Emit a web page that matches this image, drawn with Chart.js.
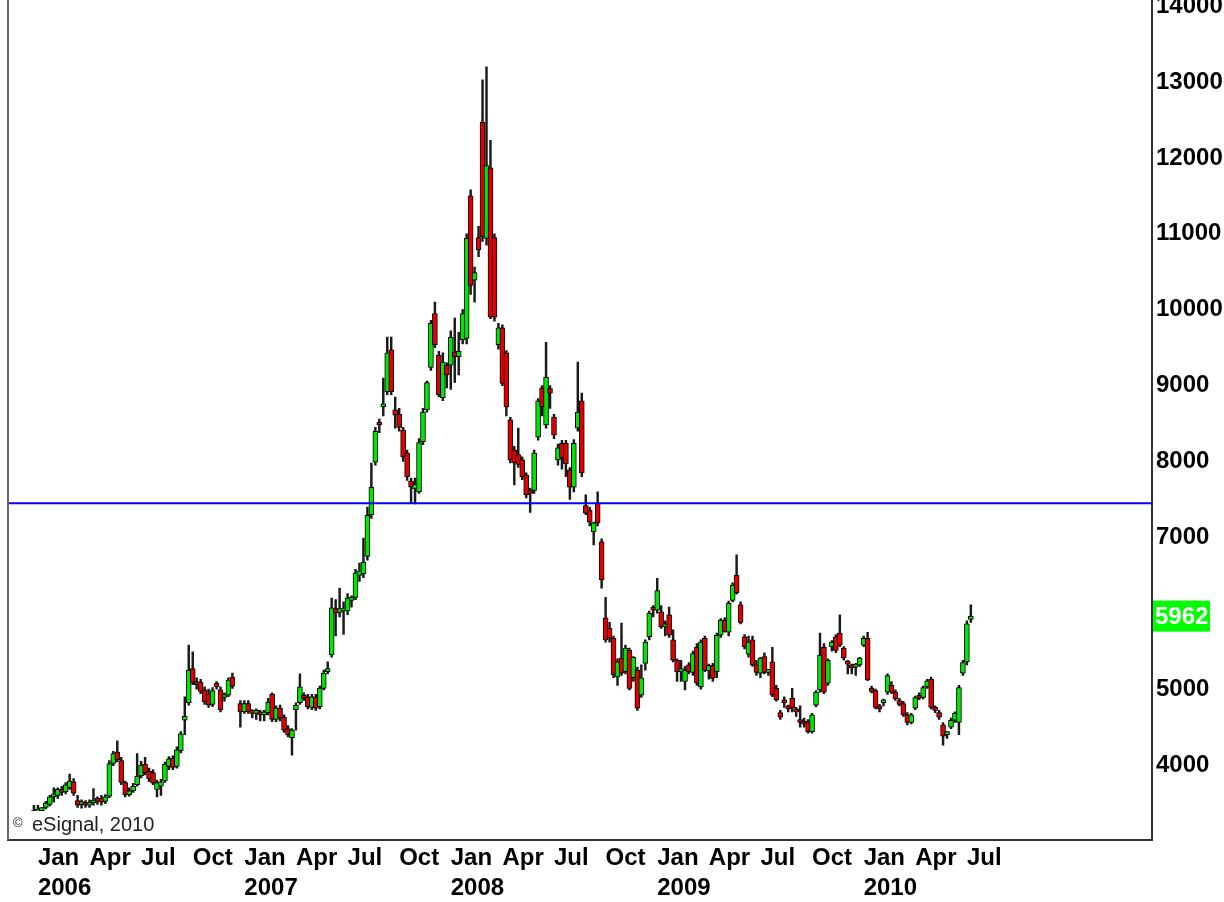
<!DOCTYPE html>
<html>
<head>
<meta charset="utf-8">
<title>Weekly candles 2005-2010</title>
<script src="https://cdn.jsdelivr.net/npm/chart.js@4.4.1/dist/chart.umd.min.js"></script>
<style>
  html, body { margin: 0; padding: 0; background: #fff; overflow: hidden; }
  #wrap { position: relative; width: 1224px; height: 902px; overflow: hidden; }
  #chart { position: absolute; left: 0; top: -49px; }
</style>
</head>
<body>
<div id="wrap"><canvas id="chart" width="1224" height="951"></canvas></div>
<script>
// weekly bars, index 0 = first week of Dec 2005 (null = no trading that week)
const opens = [
  3330,3350,3340,3360,3380,3400,3440,3480,3580,3600,
  3680,3650,3700,3780,3530,3480,3490,3470,3500,3530,
  3560,3520,3590,4020,4170,4060,3770,3610,3660,3740,
  3860,4010,3920,3900,3680,3720,3790,3980,4090,3980,
  4190,4590,4820,5270,5090,5090,4990,4940,4800,5080,
  4990,4890,4920,5160,null,4810,4700,4810,4700,4680,
  4700,4660,4690,4930,4600,4750,4630,4480,4360,4730,
  4820,4890,4900,4760,4900,4770,5010,5230,5450,6060,
  6010,6030,6030,6170,6210,6500,6520,6750,7300,7990,
  8520,8720,8920,9470,8680,8620,8410,8110,7740,7640,
  7600,8260,8680,9240,9950,9400,8840,9270,9270,9440,
  9380,9600,9620,11500,10390,10950,12470,10940,11870,10950,
  9540,9760,9430,8550,8150,8090,8020,7820,7600,7620,
  8320,8970,8480,8960,8580,8020,8240,8240,7890,7660,
  8440,8800,7420,7360,7070,7450,6940,5940,5800,5670,
  5160,5410,5230,5510,5150,5250,4920,5340,5690,6070,
  6040,6020,5820,5980,5650,5380,5230,5100,5320,5220,
  5550,5030,5670,5240,5310,5230,5710,5910,5750,6170,
  6500,6110,5690,5460,5650,5320,5210,5430,5220,5360,
  5010,4690,4850,4780,4880,4720,4590,4580,4570,4440,
  4790,4990,5550,5080,5560,5690,5740,5540,5350,5310,
  5290,5320,5580,5670,5010,4980,4780,4820,4960,5050,
  4960,4850,4810,4660,4560,4750,4900,4890,5030,5130,
  4750,4690,4530,4400,4500,4590,4560,5210,5360,5920
];
const highs = [
  3370,3370,3380,3470,3470,3440,3520,3600,3700,3700,
  3720,3770,3880,3820,3600,3540,3530,3540,3690,3580,
  3600,3610,4060,4180,4320,4100,3790,3700,3760,4150,
  4050,4100,3960,3940,3800,3810,4040,4110,4120,4240,
  4440,4900,5580,5490,5150,5130,5030,5000,5020,5100,
  5030,4950,5150,5210,null,4850,4850,4850,4730,4740,
  4720,4720,4880,4950,4780,4790,4660,4520,4480,4820,
  5200,4950,4930,4930,4930,5040,5250,5360,6200,6180,
  6330,6150,6260,6230,6580,6660,6990,7400,7980,8450,
  8560,9100,9640,9640,8850,8700,8450,8150,7780,7780,
  8300,8700,9060,9860,10100,9450,9430,9300,9720,9890,
  9700,10000,11000,11580,10560,11100,13030,13200,12230,11000,
  9820,9800,9460,8580,8200,8440,8060,7850,7650,8150,
  8830,9000,9570,9000,8620,8230,8280,8280,7920,8290,
  9310,8900,7560,7400,7200,7600,6980,6210,5880,5700,
  5400,5870,5580,5540,5430,5290,5320,5650,6030,6100,
  6460,6100,5900,6080,5780,5400,5380,5300,5350,5500,
  5600,5650,5700,5330,5340,5740,5930,5940,6160,6400,
  6770,6150,5720,5700,5700,5380,5420,5480,5260,5550,
  5050,4720,4900,4790,5010,4760,4780,4620,4600,4680,
  4980,5740,5600,5400,5640,5720,5980,5560,5380,5330,
  5340,5420,5700,5750,5040,5000,4800,4870,5200,5100,
  4990,4880,4840,4690,4680,4910,4950,5040,5130,5160,
  4780,4720,4560,4440,4620,4700,5050,5380,5900,6110
];
const lows = [
  3290,3300,3300,3330,3340,3350,3420,3460,3510,3560,
  3600,3620,3680,3600,3440,3430,3440,3440,3470,3480,
  3470,3490,3570,3990,4040,3740,3580,3590,3640,3720,
  3830,3870,3780,3740,3580,3600,3770,3940,3940,3960,
  4160,4400,4790,5060,5000,4940,4800,4760,4770,5000,
  4700,4840,4900,5010,null,4500,4680,4680,4620,4600,
  4580,4580,4660,4570,4570,4580,4430,4370,4130,4460,
  4800,4850,4740,4730,4720,4740,4990,5200,5420,5700,
  5950,5720,5980,6080,6180,6420,6470,6700,7250,7950,
  8380,8600,8880,8880,8440,8400,8000,7750,7450,7440,
  7580,8220,8650,9200,9500,8850,8800,8970,8950,9040,
  9140,9550,9550,10200,10100,10700,10900,10850,9880,9850,
  9480,9000,8600,7980,7690,7920,7760,7520,7330,7580,
  8280,8600,8440,8700,8300,7950,7900,7800,7500,7600,
  8400,7800,7300,7150,6900,7150,6330,5620,5620,5150,
  5050,5180,5200,4990,5100,4720,4890,5250,5650,5950,
  6000,5800,5700,5680,5360,5100,5100,4990,5200,5180,
  5050,5000,5230,5130,5100,5150,5680,5750,5700,6150,
  6250,5860,5530,5420,5300,5180,5150,5200,5180,4900,
  4840,4600,4760,4700,4700,4640,4500,4500,4420,4420,
  4770,4960,4940,5050,5500,5480,5560,5380,5200,5200,
  5180,5300,5560,5110,4950,4740,4700,4780,4930,4940,
  4850,4780,4640,4530,4540,4730,4860,4870,5010,4740,
  4690,4600,4260,4350,4480,4560,4400,5180,5320,5880
];
const closes = [
  3350,3340,3360,3380,3400,3420,3500,3580,3620,3680,
  3640,3740,3790,3630,3470,3500,3470,3500,3530,3520,
  3510,3580,4020,4150,4070,3770,3610,3660,3720,3850,
  4000,3900,3820,3760,3770,3780,4010,4080,3970,4200,
  4410,4640,5250,5090,5060,4970,4830,4790,4980,5030,
  4730,4900,5120,5040,null,4700,4810,4700,4680,4700,
  4660,4690,4830,4600,4750,4620,4460,4400,4460,4790,
  5030,4880,4770,4900,4750,5010,5210,5260,6070,6000,
  6060,6060,6200,6190,6530,6560,6670,7290,7660,8400,
  8480,8760,9430,8920,8610,8450,8060,7800,7660,7700,
  8250,8650,9040,9820,9540,8880,9310,9140,9640,9380,
  9450,9950,10940,10320,10490,10790,10960,11900,9900,9900,
  9760,9030,8720,8020,7980,7960,7800,7560,7580,8110,
  8800,8720,9110,8900,8350,8180,8050,7970,7660,8240,
  8650,7850,7320,7200,7190,7190,6440,5650,5670,5190,
  5360,5210,5540,5010,5420,4750,5150,5620,6000,6040,
  6300,5820,5840,5710,5380,5230,5250,5250,5230,5470,
  5080,5620,5250,5310,5140,5710,5910,5760,6130,6370,
  6270,5880,5560,5620,5320,5220,5410,5220,5240,4920,
  4860,4630,4820,4740,4750,4700,4560,4540,4440,4660,
  4960,5450,4960,5380,5620,5510,5580,5410,5330,5280,
  5310,5410,5670,5120,4970,4760,4740,4860,5180,4960,
  4870,4800,4660,4560,4660,4890,4880,5020,5110,4760,
  4720,4630,4380,4410,4590,4680,5020,5350,5860,5962
];

// x ticks: first week of each quarter
const tickWeeks = [4,17,30,43,56,69,82,95,108,121,134,147,160,173,186,199,212,225,238];
const tickMonths = ['Jan','Apr','Jul','Oct','Jan','Apr','Jul','Oct','Jan','Apr','Jul','Oct','Jan','Apr','Jul','Oct','Jan','Apr','Jul'];
const tickYears = ['2006','','','','2007','','','','2008','','','','2009','','','','2010','',''];
const yTicks = [4000,5000,6000,7000,8000,9000,10000,11000,12000,13000,14000];
const supportLevel = 7450;

const GREEN = '#00e600', RED = '#e00000';
const wicks = [], bodies = [], bodyColors = [];
for (let i = 0; i < opens.length; i++) {
  if (opens[i] == null) continue;
  wicks.push({x: i, y: [lows[i], highs[i]]});
  bodies.push({x: i, y: [opens[i], closes[i]]});
  bodyColors.push(closes[i] >= opens[i] ? GREEN : RED);
}

Chart.defaults.font.family = "'Liberation Sans', Arial, sans-serif";

// left frame line, copyright box, last price tag
const extras = {
  id: 'extras',
  afterDraw(chart) {
    const ctx = chart.ctx, a = chart.chartArea, ys = chart.scales.y;
    ctx.save();
    ctx.strokeStyle = '#666';
    ctx.lineWidth = 2;
    ctx.beginPath();
    ctx.moveTo(a.left, 0);
    ctx.lineTo(a.left, a.bottom);
    ctx.stroke();

    ctx.fillStyle = '#fff';
    ctx.fillRect(a.left + 2, a.bottom - 29, 150, 27);
    ctx.fillStyle = '#222';
    ctx.textBaseline = 'alphabetic';
    ctx.font = "13px 'Liberation Sans', Arial";
    ctx.fillText('\u00a9', a.left + 5, a.bottom - 13);
    ctx.font = "20px 'Liberation Sans', Arial";
    ctx.fillText('eSignal, 2010', a.left + 24, a.bottom - 9);

    const last = closes[closes.length - 1];
    const py = ys.getPixelForValue(last);
    ctx.fillStyle = '#00ff00';
    ctx.fillRect(a.right + 1, py - 15.5, 57, 31);
    ctx.fillStyle = '#fff';
    ctx.font = "bold 24px 'Liberation Sans', Arial";
    ctx.textBaseline = 'middle';
    ctx.fillText(String(last), a.right + 3, py + 1);
    ctx.restore();
  }
};

new Chart(document.getElementById('chart'), {
  type: 'bar',
  data: {
    datasets: [{
      label: 'Support',
      type: 'line',
      data: [{x: -3.53, y: supportLevel}, {x: 284.63, y: supportLevel}],
      borderColor: '#0000ff',
      borderWidth: 2,
      pointRadius: 0,
      order: 1
    }, {
      label: 'Body',
      data: bodies,
      backgroundColor: bodyColors,
      borderColor: '#000',
      borderWidth: 1,
      borderSkipped: false,
      barThickness: 5,
      minBarLength: 3,
      grouped: false,
      order: 2
    }, {
      label: 'Range',
      data: wicks,
      backgroundColor: '#1a1a1a',
      borderWidth: 0,
      barThickness: 1.8,
      grouped: false,
      order: 3
    }]
  },
  options: {
    responsive: false,
    animation: false,
    devicePixelRatio: 1,
    layout: { padding: { left: 8, top: 0, right: 0, bottom: 0 } },
    plugins: {
      legend: { display: false },
      tooltip: { enabled: false }
    },
    scales: {
      x: {
        type: 'linear',
        offset: false,
        min: -3.53,
        max: 284.63,
        grid: { display: false, drawTicks: false },
        border: { display: true, color: '#333', width: 2 },
        afterBuildTicks: (s) => { s.ticks = tickWeeks.map(v => ({value: v})); },
        afterFit: (s) => { s.height = 62; },
        ticks: {
          autoSkip: false,
          maxRotation: 0,
          align: 'start',
          padding: 3,
          color: '#000',
          font: { size: 24, weight: 'bold', lineHeight: 1.25 },
          callback: (v, i) => tickYears[i] ? [tickMonths[i], tickYears[i]] : tickMonths[i]
        }
      },
      y: {
        position: 'right',
        min: 3012,
        max: 14484,
        grid: { display: false, drawTicks: false },
        border: { display: true, color: '#333', width: 2 },
        afterBuildTicks: (s) => { s.ticks = yTicks.map(v => ({value: v})); },
        afterFit: (s) => { s.width = 72; },
        ticks: {
          padding: 4,
          color: '#000',
          font: { size: 24, weight: 'bold' },
          callback: (v) => String(v)
        }
      }
    }
  },
  plugins: [extras]
});
</script>
</body>
</html>
